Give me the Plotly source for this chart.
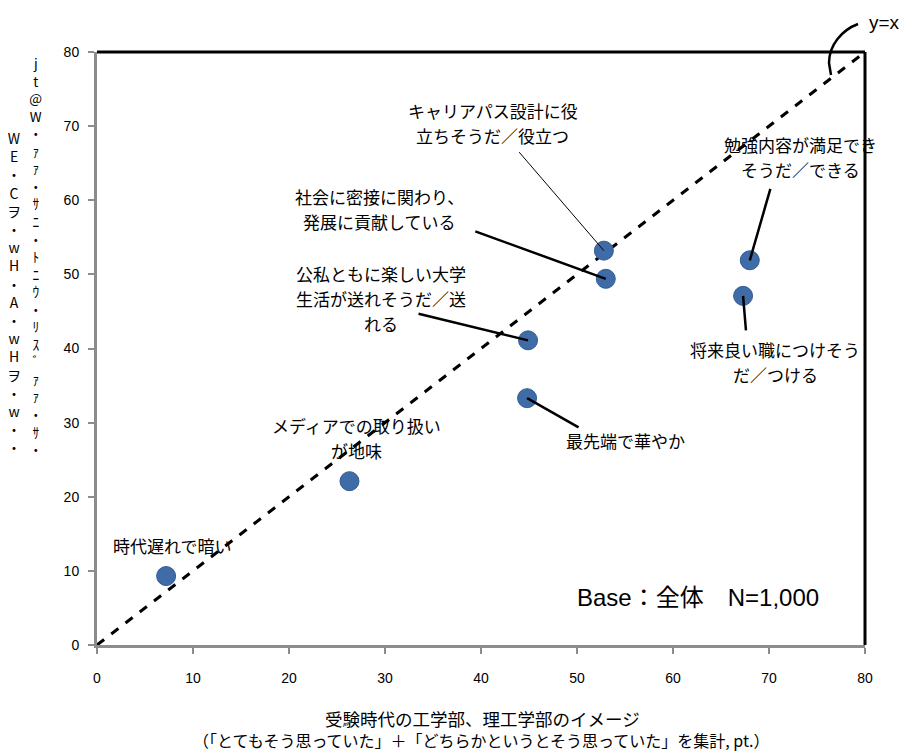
import plotly.graph_objects as go

# Image items: x = image at exam time, y = current image (pt.)
labels = [
    "時代遅れで暗い",
    "メディアでの取り扱い<br>が地味",
    "最先端で華やか",
    "公私ともに楽しい大学<br>生活が送れそうだ／送<br>れる",
    "社会に密接に関わり、<br>発展に貢献している",
    "キャリアパス設計に役<br>立ちそうだ／役立つ",
    "将来良い職につけそう<br>だ／つける",
    "勉強内容が満足でき<br>そうだ／できる",
]
x_exam = [7.2, 26.3, 44.8, 44.9, 53.0, 52.8, 67.3, 68.0]
y_now = [9.3, 22.1, 33.3, 41.1, 49.4, 53.2, 47.1, 51.9]
ticks = [0, 10, 20, 30, 40, 50, 60, 70, 80]

# label offsets (px) and leader lines (tail offset px, width) per item
label_shift = [(6, 31), (7, 43), (98, -42), (-147, 42), (-226, 70), (-111, 128), (32, -66), (51, 103)]
leaders = {2: (53, 30, 2.5), 3: (-111, -27, 2.5), 4: (-132, -48, 2.5),
           5: (-86, -100, 1), 6: (3, 36, 2.5), 7: (21, -73, 2.5)}
LINE_GAP = 25

W, H = 904, 751
L, R, T, B = 97, 39, 52, 106
PW, PH = W - L - R, H - T - B


def px(xp, yp):
    return (xp - L) / PW, (H - B - yp) / PH


JP = "Noto Sans CJK JP, sans-serif"
LAT = "Liberation Sans, Arial, Noto Sans CJK JP, sans-serif"

fig = go.Figure()

# y = x reference line
fig.add_trace(go.Scatter(
    x=[ticks[0], ticks[-1]], y=[ticks[0], ticks[-1]], mode="lines",
    line=dict(color="black", width=3, dash="dash"), hoverinfo="skip", showlegend=False))

fig.add_trace(go.Scatter(
    x=x_exam, y=y_now, mode="markers",
    marker=dict(size=19, color="#3f6ca6", line=dict(color="#325c93", width=1)),
    text=labels, hoverinfo="text", showlegend=False))

ann = []
for i, (lab, xv, yv) in enumerate(zip(labels, x_exam, y_now)):
    dx, dy = label_shift[i]
    rows = lab.split("<br>")
    n = len(rows)
    for k, row in enumerate(rows):
        ann.append(dict(x=xv, y=yv, xref="x", yref="y", text=row, showarrow=False,
                        xshift=dx, yshift=dy - (k - (n - 1) / 2) * LINE_GAP,
                        xanchor="center", yanchor="middle",
                        font=dict(family=JP, size=17, color="black")))
    if i in leaders:
        ax, ay, lw = leaders[i]
        ann.append(dict(x=xv, y=yv, xref="x", yref="y", text="", showarrow=True,
                        arrowhead=0, arrowwidth=lw, arrowcolor="black",
                        ax=ax, ay=ay, standoff=0, startstandoff=0))


def paper_text(xp, yp, text, size, family, align="center"):
    x, y = px(xp, yp)
    ann.append(dict(x=x, y=y, xref="paper", yref="paper", text=text, showarrow=False,
                    xanchor="center", yanchor="middle", align=align,
                    font=dict(family=family, size=size, color="black")))


paper_text(884, 22, "y=x", 19, LAT)
paper_text(698, 597, "Base：全体　N=1,000", 24, LAT)

# x axis title (two lines)
paper_text(482, 718, "受験時代の工学部、理工学部のイメージ", 17.5, JP)
paper_text(481, 740, "（「とてもそう思っていた」＋「どちらかというとそう思っていた」を集計, pt.）", 16, JP)

# y axis title, stacked characters
col1 = ["W", "E", "・", "C", "ヲ", "・", "w", "H", "・", "A", "・", "w", "H", "ヲ", "・", "w", "・", "・"]
col2 = ["j", "t", "@", "W", "・", "ｧ", "ｧ", "・", "ｻ", "ﾆ", "・", "ﾄ", "ﾆ", "ｳ", "・", "ﾘ", "ｽ", "ﾞ", "ｧ", "ｧ", "・", "ｻ", "・"]
paper_text(14, 292, "<br>".join(col1), 14, JP)
paper_text(36, 256, "<br>".join(col2), 13.5, JP)

p0, c1, c2, p1, p2 = px(858, 24), px(842, 30), px(829, 45), px(829, 63), px(831, 75)
path = "M {},{} C {},{} {},{} {},{} L {},{}".format(*p0, *c1, *c2, *p1, *p2)
shapes = [
    dict(type="path", xref="paper", yref="paper", path=path,
         line=dict(color="black", width=2.5)),
    # top and right frame
    dict(type="line", xref="paper", yref="paper", x0=0, y0=1, x1=1, y1=1,
         line=dict(color="black", width=3)),
    dict(type="line", xref="paper", yref="paper", x0=1, y0=0, x1=1, y1=1,
         line=dict(color="black", width=3)),
]

axis_common = dict(range=[ticks[0], ticks[-1]], tickvals=ticks, showgrid=False, zeroline=False,
                   showline=True, linecolor="#8c8c8c", linewidth=3, ticks="outside",
                   tickcolor="#8c8c8c", ticklen=6, tickwidth=2,
                   tickfont=dict(family=LAT, size=14, color="black"))

fig.update_layout(
    width=W, height=H, margin=dict(l=L, r=R, t=T, b=B),
    paper_bgcolor="white", plot_bgcolor="white",
    xaxis=dict(**axis_common),
    yaxis=dict(**axis_common),
    annotations=ann, shapes=shapes,
)
fig.update_xaxes(ticklabelstandoff=12)
fig.update_yaxes(ticklabelstandoff=6)

fig.write_html("out.html")
